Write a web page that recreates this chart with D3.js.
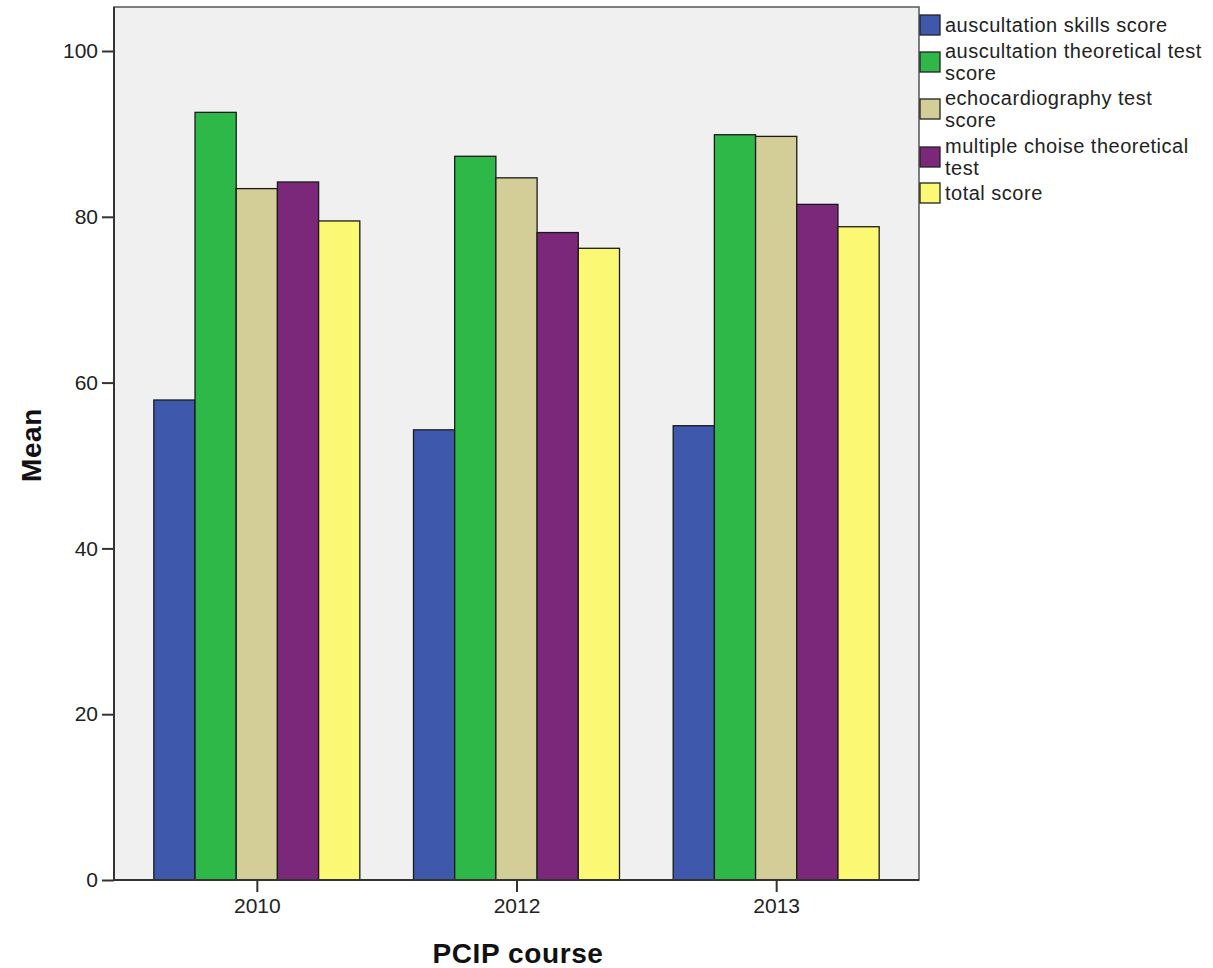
<!DOCTYPE html>
<html><head><meta charset="utf-8">
<script src="https://cdn.jsdelivr.net/npm/d3@7"></script>
<style>body{margin:0;background:#fff}svg{display:block}text{font-family:"Liberation Sans",Arial,sans-serif}</style>
</head><body><svg id="c" width="1213" height="968"></svg>
<script>
const categories = ["2010","2012","2013"];
const seriesNames = [
  "auscultation skills score",
  "auscultation theoretical test score",
  "echocardiography test score",
  "multiple choise theoretical test",
  "total score"
];
const legendLines = [
  ["auscultation skills score"],
  ["auscultation theoretical test","score"],
  ["echocardiography test","score"],
  ["multiple choise theoretical","test"],
  ["total score"]
];
const colors = ["#3E58AC","#2EB848","#D3CE97","#7B287B","#FBF873"];
const skills = [57.9, 54.3, 54.8];
const auscTheory = [92.6, 87.3, 89.9];
const echo = [83.4, 84.7, 89.7];
const mcq = [84.2, 78.1, 81.5];
const total = [79.5, 76.2, 78.8];
const seriesValues = [skills, auscTheory, echo, mcq, total];
const yTicks = [0,20,40,60,80,100];

const svg = d3.select("#c");
const L=114, R=919, T=7, B=880;
const y = d3.scaleLinear().domain([0,100]).range([B, 51]);
const x = d3.scalePoint().domain(categories).range([L,R]).padding(0.55);
const inner = d3.scaleBand().domain(d3.range(seriesNames.length)).range([-103,103]);

svg.append("rect").attr("x",L).attr("y",T).attr("width",R-L).attr("height",B-T)
  .attr("fill","#F0F0F0").attr("stroke","#555").attr("stroke-width",1.5);

categories.forEach((c,ci)=>{
  seriesValues.forEach((vals,si)=>{
    svg.append("rect")
      .attr("x", x(c)+inner(si))
      .attr("y", y(vals[ci]))
      .attr("width", inner.bandwidth())
      .attr("height", B - y(vals[ci]))
      .attr("fill", colors[si]).attr("stroke","#1a1a1a").attr("stroke-width",1.3);
  });
});

const ya = svg.append("g").attr("transform",`translate(${L},0)`)
  .call(d3.axisLeft(y).tickValues(yTicks).tickSize(12).tickPadding(4));
const xa = svg.append("g").attr("transform",`translate(0,${B})`)
  .call(d3.axisBottom(x).tickSize(12).tickPadding(6));
[ya,xa].forEach(a=>{
  a.selectAll("path").attr("stroke","#333").attr("stroke-width",2);
  a.selectAll("line").attr("stroke","#333").attr("stroke-width",2);
  a.selectAll("text").attr("font-size",21).attr("fill","#222").attr("font-family","Liberation Sans, Arial, sans-serif");
});
xa.select(".domain").attr("d",`M${L},0H${R}`);
ya.select(".domain").attr("d",`M0,${B}V${T}`);

svg.append("text").attr("x",518).attr("y",963).attr("text-anchor","middle")
  .attr("font-size",28).attr("font-weight","bold").attr("letter-spacing",0.6).attr("fill","#111").text("PCIP course");
svg.append("text").attr("transform","translate(41,445) rotate(-90)").attr("text-anchor","middle")
  .attr("font-size",28).attr("font-weight","bold").attr("letter-spacing",0.6).attr("fill","#111").text("Mean");

// legend
const lineH = 22;
const lineStarts = [25, 51, 98, 146, 193];
legendLines.forEach((lines,i)=>{
  const top = lineStarts[i];
  const mid = top + (lines.length-1)*lineH/2;
  svg.append("rect").attr("x",920).attr("y",mid-10).attr("width",20).attr("height",20)
    .attr("fill",colors[i]).attr("stroke","#222").attr("stroke-width",1.3);
  lines.forEach((t,j)=>{
    svg.append("text").attr("x",945).attr("y",top + j*lineH).attr("dy","0.35em")
      .attr("font-size",20).attr("letter-spacing",0.5).attr("fill","#222").text(t);
  });
});
</script></body></html>
